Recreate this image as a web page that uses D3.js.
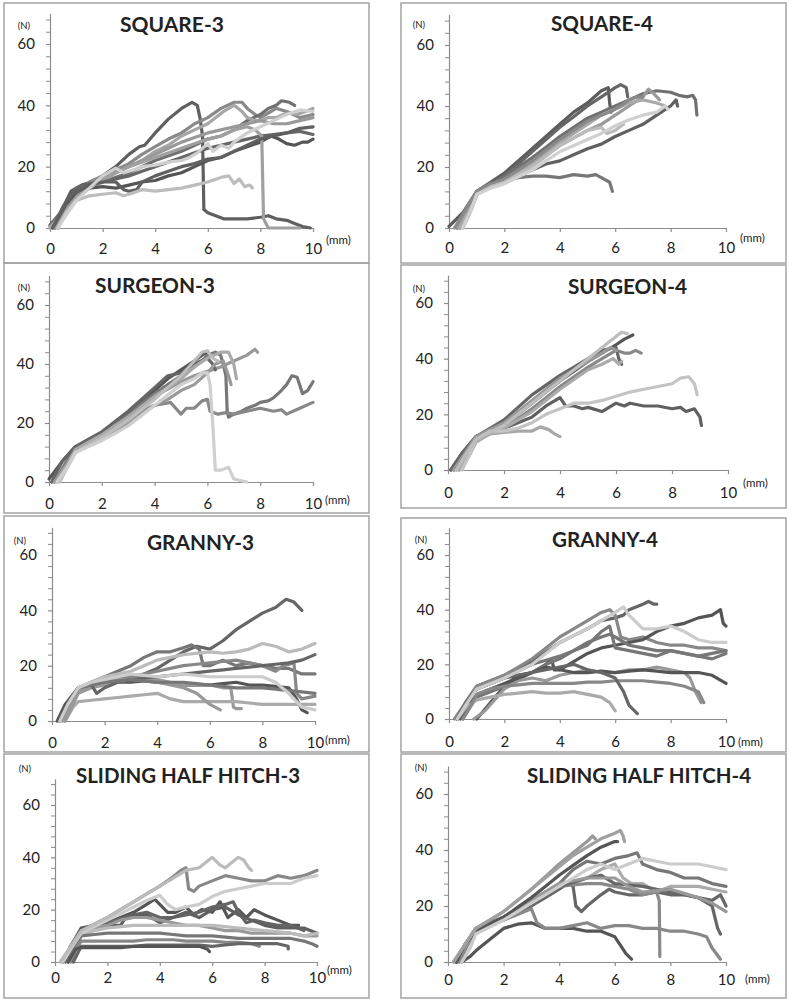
<!DOCTYPE html>
<html><head><meta charset="utf-8">
<script src="https://cdn.jsdelivr.net/npm/d3@7"></script>
<style>
html,body{margin:0;padding:0;background:#fff;}
svg{display:block;}
text{font-family:Lato,"Open Sans",sans-serif;fill:#222;}
</style></head>
<body>
<svg id="chart" width="789" height="1001"></svg>
<script>
// ---------------- DATA ----------------
const xTickValues = [0, 2, 4, 6, 8, 10];
const yTickValues = [0, 20, 40, 60];
const yMinorValues = [4,8,12,16,24,28,32,36,44,48,52,56,64,68];
const panelTitles = ["SQUARE-3","SQUARE-4","SURGEON-3","SURGEON-4","GRANNY-3","GRANNY-4","SLIDING HALF HITCH-3","SLIDING HALF HITCH-4"];

const square3 = [
 [[0,1],[0.4,5],[0.8,12],[1.2,14],[1.6,15],[2,17],[2.5,20],[3,24],[3.4,26.5],[3.6,27],[4,31],[4.5,35.5],[5,39],[5.4,41],[5.6,40],[5.7,36],[5.8,30],[5.85,6],[6,5],[6.3,4],[6.6,3],[7,3],[7.5,3],[8,3.5],[8.3,4],[8.6,3],[9,2.5],[9.3,1.5],[9.6,0.5],[9.9,0]],
 [[0,0.5],[0.5,5],[0.9,10],[1.5,15],[2,17],[2.5,19],[3,21],[3.5,24],[4,26.5],[4.5,29],[5,31],[5.5,34],[6,36],[6.5,39],[7,41],[7.3,41],[7.5,39],[7.8,37],[8,36],[8.3,37.5],[8.6,39],[9,38],[9.5,36],[10,37]],
 [[0.3,0],[0.6,6],[1,11],[1.5,13],[2,15],[3,18],[4,22],[5,25],[5.5,27],[6,29],[6.5,30],[7,32],[7.5,35],[8,37],[8.3,39],[8.6,40],[8.8,41.5],[9.1,41],[9.3,40]],
 [[0,0],[0.5,5],[1,10],[1.5,13],[2,15],[2.5,18],[3,20],[3.5,22],[4,25],[4.5,27],[5,30],[5.5,32],[6,34],[6.3,36],[6.6,38],[7,40],[7.3,38],[7.5,36],[7.8,35],[8,35],[8.3,36],[8.6,36],[9,37.5],[9.4,37],[9.7,38],[10,39]],
 [[0.2,0],[0.6,6],[1,12],[1.5,13],[2,13.5],[2.5,13],[3,14],[3.5,15],[4,15.5],[4.5,17],[5,18],[5.5,20],[6,22],[6.5,23],[7,25],[7.5,26.5],[8,28],[8.4,30],[8.7,29],[9,27.5],[9.3,27],[9.6,28],[9.8,28],[10,29]],
 [[0.1,0],[0.5,7],[1,13],[1.5,14.5],[2,15],[2.5,16],[3,17],[3.5,18.5],[4,20],[4.5,21.5],[5,23],[5.5,24.5],[6,26],[6.5,27],[7,28],[7.5,29],[8,30],[8.5,30.5],[9,31],[9.5,31.5],[10,30.5]],
 [[0.2,0],[0.6,6],[1,10],[1.5,13],[2,16],[2.5,18],[3,20],[3.5,22],[4,24],[4.5,26],[5,28],[5.5,29.5],[6,31],[6.5,32],[7,33],[7.5,34],[8,35],[8.5,34],[9,34],[9.5,35],[10,36]],
 [[0.2,0],[0.6,5],[1,10],[1.5,13],[2,16],[3,20],[4,23],[5,26],[6,29],[6.5,30],[7,32],[7.5,33],[7.8,32],[8.05,30],[8.12,3],[8.3,0],[8.7,0],[9.2,0],[9.5,0]],
 [[0.1,0],[0.5,6],[0.8,11],[1.5,14],[2,15],[2.5,15],[2.8,12.5],[3,12],[3.3,12.5],[3.5,15],[4,17],[4.5,18.5],[5,20],[5.5,21],[6,22.5],[6.5,23],[7,25],[7.5,27],[8,29],[8.5,30],[9,31],[9.5,32.5],[10,33]],
 [[0.3,0],[0.6,5],[1,9],[1.5,10.5],[2,11],[2.5,11.5],[2.8,10.5],[3,11],[3.5,12.5],[4,12],[4.5,12.5],[5,13],[5.5,14],[6,15],[6.5,16.5],[6.8,17],[7,14.5],[7.2,16],[7.4,13.5],[7.6,14],[7.7,13]],
 [[0.3,0],[0.6,4],[1,9],[1.5,13],[2,17],[2.5,19.5],[2.8,18],[3.2,19],[3.5,20],[4,20.5],[4.5,21.5],[5,22],[5.3,23],[5.6,24.5],[6,27.5],[6.2,25],[6.5,27],[6.8,26],[7,28],[7.5,31],[8,33],[8.5,35],[9,37],[9.5,38.5],[10,38]]
];
const square4 = [
 [[0,0.5],[0.5,5],[1,12],[1.5,15],[2,18],[2.5,22],[3,26],[3.5,30],[4,34],[4.5,38],[5,41],[5.5,45],[5.75,46],[5.8,41],[5.85,38]],
 [[0.3,0],[0.6,5],[1,11],[1.5,14],[2,17],[2.5,21],[3,25],[3.5,29],[4,33],[4.5,36.5],[5,40],[5.5,43],[6,46],[6.2,47],[6.4,46],[6.45,43]],
 [[0.3,0],[0.7,6],[1,12],[1.5,14],[2,17],[2.5,20],[3,23],[3.5,26.5],[4,30],[4.5,33],[5,36],[5.5,38],[6,40],[6.5,42],[7,44],[7.5,45],[8,44.5],[8.3,43.5],[8.6,43],[8.8,43.5],[8.9,42],[8.95,37]],
 [[0.4,0],[0.7,6],[1,11],[1.5,14],[2,15.5],[2.5,16.5],[3,17],[3.5,17],[4,16.5],[4.5,17.5],[5,17],[5.3,17.5],[5.5,16.5],[5.8,15],[5.9,12]],
 [[0.5,0],[0.8,6],[1,11],[1.5,13.5],[2,15],[2.5,17],[3,19],[3.5,21],[4,22],[4.5,24],[5,26],[5.5,27.5],[6,30],[6.5,32],[7,34],[7.5,37],[8,40],[8.2,42],[8.25,40]],
 [[0.3,0],[0.7,6],[1,11],[1.5,14],[2,16],[3,21],[4,27],[5,32],[5.5,34],[6,37],[6.5,40],[7,43],[7.2,45.5],[7.4,44],[7.6,42]],
 [[0.4,0],[0.8,7],[1,11],[1.5,13.5],[2,15],[3,21],[4,28],[5,34],[5.5,37],[6,39],[6.5,41],[7,42],[7.5,41],[7.8,40]],
 [[0.2,0],[0.6,6],[1,12],[1.5,14.5],[2,16],[3,22],[4,29],[5,35],[5.5,37],[5.8,38],[6.2,40],[6.5,42],[6.8,43],[7,43]],
 [[0.5,0],[0.8,6],[1,11],[1.5,13.5],[2,15],[3,20],[4,27],[5,32],[5.5,33],[5.7,31],[6,32],[6.3,34]],
 [[0.5,0],[0.8,6],[1,11],[1.5,13],[2,14.5],[3,19],[4,25],[5,29],[5.5,31],[6,33.5],[6.5,35.5],[7,37],[7.5,38],[7.8,40],[7.9,39]]
];
const surgeon3 = [
 [[0,1],[0.5,7],[1,12],[1.5,14],[2,16],[2.5,19],[3,23],[3.5,27],[4,31],[4.5,35],[5,38],[5.5,41],[5.8,43],[6,44]],
 [[0.2,0],[0.6,6],[1,11],[1.5,13.5],[2,16],[2.5,19],[3,23],[3.5,26.5],[4,30],[4.5,33],[5,36],[5.5,39],[5.8,41],[6,43],[6.3,44],[6.5,43],[6.6,40],[6.7,36],[6.75,24],[6.8,22],[7,23],[7.3,24],[7.5,25],[7.8,26],[8,27],[8.3,27.5],[8.5,28.5],[8.8,31],[9,33],[9.2,36],[9.4,35.5],[9.6,30],[9.8,31],[10,34]],
 [[0.2,0],[0.6,5],[1,10],[1.5,13],[2,15],[2.5,18],[3,21],[3.5,24],[4,26],[4.3,26.5],[4.6,27],[4.8,25],[5,23],[5.2,25],[5.5,25],[5.8,27.5],[6,28],[6.1,24],[6.4,23],[6.7,23.5],[7,23],[7.5,24],[8,25],[8.5,24],[8.8,24.5],[9,23],[9.5,25],[10,27]],
 [[0.3,0],[0.7,6],[1,11],[1.5,13.5],[2,16],[2.5,19],[3,22],[3.5,25.5],[4,29],[4.5,31.5],[5,34],[5.5,36],[6,37.5],[6.5,39],[7,41],[7.5,43],[7.8,45],[7.9,44]],
 [[0.1,0],[0.5,7],[1,12],[1.5,14.5],[2,17],[3,24],[4,32],[4.5,36],[5,37],[5.5,40],[6,42],[6.2,40],[6.3,38]],
 [[0.2,0],[0.6,5],[1,10],[1.5,13],[2,15],[3,20],[4,26],[4.5,28],[5,31],[5.5,33],[6,37],[6.3,40],[6.6,41],[6.8,36],[6.9,33]],
 [[0.3,0],[0.7,6],[1,11],[1.5,13.5],[2,16],[3,22],[4,29],[5,35],[5.5,39],[6,42],[6.5,44],[6.8,44],[7,40],[7.1,35]],
 [[0.4,0],[0.7,5],[1,10],[1.5,12.5],[2,15],[3,21],[4,28],[4.5,32],[5,36],[5.5,41],[5.8,44],[6,44.5],[6.2,42],[6.4,41]],
 [[0.3,0],[0.7,5],[1,10],[1.5,12],[2,14],[2.5,16.5],[3,19],[3.5,22.5],[4,26],[4.5,29.5],[5,33],[5.5,35],[5.8,37],[6,37],[6.1,33],[6.2,20],[6.3,4],[6.5,4],[6.8,5],[7,1],[7.5,0]]
];
const surgeon4 = [
 [[0.1,0],[0.5,6],[1,12],[1.5,14],[2,15],[2.5,17],[3,19],[3.5,23],[4,26],[4.2,23],[4.5,23],[4.8,22],[5,22.5],[5.5,21],[6,24],[6.3,23],[6.5,24],[7,23],[7.5,23],[8,22],[8.3,22.5],[8.5,21],[8.8,22],[9,19],[9.05,16]],
 [[0.2,0],[0.6,6],[1,12],[1.5,14],[2,16],[2.5,20],[3,24],[3.5,28],[4,32],[4.5,35.5],[5,39],[5.5,42],[6,45],[6.3,47],[6.6,48.5]],
 [[0.1,0],[0.5,6],[1,12],[1.5,15],[2,18],[2.5,22.5],[3,27],[3.5,30.5],[4,34],[4.5,37],[5,40],[5.5,43],[6,44],[6.1,40],[6.2,38]],
 [[0.3,0],[0.7,6],[1,11],[1.5,13],[2,15],[2.5,18.5],[3,22],[3.5,26],[4,30],[4.5,33.5],[5,37],[5.5,40],[6,43],[6.3,42],[6.5,42],[6.7,43],[6.9,42]],
 [[0.2,0],[0.6,6],[1,12],[1.5,14.5],[2,17],[3,25],[4,33],[5,39],[5.5,42],[5.8,44],[6,43]],
 [[0.4,0],[0.8,6],[1,11],[1.5,13],[2,15],[3,21],[4,29],[5,36],[5.5,38],[5.9,40],[6.1,38],[6.2,39]],
 [[0.4,0],[0.8,6],[1,10],[1.5,13],[2,13.5],[2.5,14],[3,14],[3.3,15.5],[3.6,14.5],[3.8,13],[4,12]],
 [[0.5,0],[0.8,6],[1,11],[1.5,14],[2,14],[2.5,15],[3,17],[3.5,20],[4,22],[4.5,24],[5,24],[5.5,25],[6,26.5],[6.5,28],[7,29],[7.5,30],[8,31],[8.3,33],[8.6,33.5],[8.8,31],[8.9,27]],
 [[0.3,0],[0.6,5],[1,11],[1.5,13.5],[2,16],[2.5,20],[3,24],[3.5,28],[4,32],[4.5,36],[5,40],[5.5,44],[6,48],[6.2,49.5],[6.4,49]]
];
const granny3 = [
 [[0.3,0],[0.6,6],[1,12],[1.5,14],[2,15],[2.5,16],[3,16],[3.5,17],[4,19],[4.5,22],[5,25],[5.5,27],[6,26],[6.5,29],[7,33],[7.5,36],[8,39],[8.5,41],[8.9,44],[9.2,43],[9.4,41],[9.5,40]],
 [[0.3,0],[0.6,6],[1,11],[1.5,14],[2,16],[2.5,18],[3,20],[3.5,23],[4,25],[4.5,25],[5,26.5],[5.3,27.5],[5.6,26],[5.75,20],[6,20],[6.5,22],[7,20],[7.5,21],[8,20],[8.5,19],[9,19],[9.5,17],[10,17]],
 [[0.3,0],[0.6,6],[1,12],[1.5,14],[2,16],[2.5,17],[3,18],[3.5,20],[4,22],[4.5,23],[5,24],[6,25],[6.5,24.5],[7,25],[7.5,26],[8,28],[8.5,27],[9,25],[9.5,26],[10,28]],
 [[0.3,0],[0.6,6],[1,11],[1.5,13],[2,15],[2.5,15.5],[3,16],[3.5,17],[4,18],[4.5,19],[5,20],[5.5,20.5],[6,21],[6.5,21.5],[7,22],[7.5,21],[8,20],[8.5,18],[8.8,20],[9.2,21],[9.3,10],[9.5,8],[10,9]],
 [[0.2,0],[0.5,6],[1,12],[1.5,13],[2,14],[2.5,14],[3,14],[3.5,14.5],[4,14],[4.5,13.5],[5,13],[5.5,13],[6,13],[6.5,13.5],[7,14],[7.5,13],[8,13],[8.5,12.5],[9,12],[9.3,8],[9.5,4],[9.7,3]],
 [[0.4,0],[0.7,6],[1,11],[1.5,13],[2,14],[2.5,15],[3,15],[3.5,15.5],[4,15],[4.5,14],[5,13],[5.5,13],[6,13],[6.5,12],[6.8,12],[6.9,5],[7,4.5],[7.2,4.5]],
 [[0.5,0],[0.8,5],[1,7],[1.5,7.5],[2,8],[2.5,8.5],[3,9],[3.5,9.5],[4,10],[4.5,8],[5,7],[5.5,7],[6,7],[6.5,7],[7,7],[7.5,6.5],[8,6],[8.5,6],[9,6],[9.5,6],[10,6]],
 [[0.5,0],[0.8,6],[1,10],[1.5,12],[2,13],[2.5,14],[3,15],[3.5,14.5],[4,14],[4.5,13],[5,12],[5.5,10],[6,6],[6.4,4]],
 [[0.3,0],[0.6,6],[1,12],[1.5,13],[1.7,10],[2,12],[2.5,14],[3,15],[3.5,15.5],[4,16],[4.5,16.5],[5,17],[5.5,17.5],[6,18],[6.5,18.5],[7,19],[7.5,19.5],[8,20],[8.5,20.5],[9,21],[9.5,22],[10,24]],
 [[0.3,0],[0.6,6],[1,12],[1.5,13],[2,14],[2.5,14.5],[3,15],[3.5,14.5],[4,14],[4.5,14],[5,14],[5.5,13.5],[6,13],[6.5,12.5],[7,12],[7.5,12],[8,12],[8.5,11.5],[9,11],[9.5,10.5],[10,10]],
 [[0.3,0],[0.6,6],[1,12],[1.5,14],[2,15],[2.5,16],[3,17],[3.5,16.5],[4,16],[4.5,16.5],[5,17],[5.5,16.5],[6,16],[6.5,16],[7,16],[7.5,16],[8,16],[8.5,14],[9,10],[9.5,5],[10,4]]
];
const granny4 = [
 [[0.3,0],[0.6,6],[1,12],[1.5,14],[2,16],[2.5,18.5],[3,21],[3.5,24.5],[4,28],[4.5,30.5],[5,33],[5.5,36],[6,37],[6.3,38],[6.5,40],[7,42],[7.2,43],[7.4,42],[7.5,42]],
 [[0.2,0],[0.6,6],[1,12],[1.5,14],[2,16],[2.5,19],[3,22],[3.5,26],[4,30],[4.5,33],[5,36],[5.5,39],[5.8,40],[6,38],[6.2,30],[6.5,29],[7,30],[7.5,28],[8,27],[8.5,27],[9,26],[9.5,26],[10,25]],
 [[1,0],[1.5,6],[2,12],[2.5,16],[3,17],[3.5,20],[3.7,22],[3.8,18],[4,18],[4.5,21],[5,24],[5.5,26],[6,27],[6.5,28],[7,29],[7.5,32],[8,34],[8.5,35],[9,37],[9.5,38],[9.8,40],[9.9,35],[10,34]],
 [[0.5,0],[0.8,5],[1,8],[1.5,10],[2,12],[2.5,14.5],[3,17],[3.5,20],[4,22],[4.5,25],[5,28],[5.5,30],[5.8,31],[6,30],[6.5,27],[7,26],[7.5,25],[8,25],[8.5,24],[9,23],[9.5,24],[10,25]],
 [[0.9,0],[1.3,3],[2,11],[2.5,14],[3,15],[3.5,14],[4,16],[4.5,17],[5,18],[5.5,17],[6,17],[6.5,18],[7,18],[7.5,19],[8,18],[8.5,17],[8.7,15],[8.9,10],[9.1,6]],
 [[0.4,0],[0.7,5],[1,9],[1.5,11],[2,13],[2.5,15],[3,17],[3.5,19],[4,18],[4.5,17],[5,17],[5.5,17.5],[6,17],[6.5,17.5],[7,18],[7.5,17.5],[8,17],[8.5,17],[9,17],[9.5,16],[10,13]],
 [[0.3,0],[0.6,4],[1,7],[1.5,8],[2,9],[2.5,9.5],[3,10],[3.5,9.5],[4,9.5],[4.5,10],[5,9],[5.5,8],[5.8,6],[6,3]],
 [[0.5,0],[0.8,5],[1,9],[1.5,11],[2,12],[2.5,12.5],[3,13],[3.5,13],[4,13],[4.5,13],[5,13.5],[5.5,13.5],[6,14],[6.5,14],[7,14],[7.5,13.5],[8,13],[8.5,12],[9,10],[9.2,6]],
 [[0.3,0],[0.6,6],[1,11],[1.5,13],[2,15],[2.5,16],[3,17],[3.5,18],[4,19],[4.5,20],[5,18],[5.5,17],[6,15],[6.3,10],[6.5,5],[6.8,2]],
 [[0.3,0],[0.6,6],[1,11],[1.5,13],[2,15],[2.5,17.5],[3,20],[3.5,21.5],[4,23],[4.5,25],[5,27],[5.5,32],[5.8,34],[6,26],[6.5,25],[7,24],[7.5,23],[8,25],[8.5,24],[9,23],[9.5,22],[10,24]],
 [[0.3,0],[0.6,5],[1,11],[1.5,13],[2,15],[2.5,17.5],[3,20],[3.5,24],[4,28],[4.5,30.5],[5,33],[5.5,36],[6,39],[6.3,41],[6.5,38],[6.7,36],[7,33],[7.5,33],[8,34],[8.5,32],[9,29],[9.5,28],[10,28]]
];
const halfHitch3 = [
 [[0.3,0],[0.6,6],[1,12],[1.5,14.5],[2,17],[2.5,20],[3,23],[3.5,26],[4,29],[4.5,32.5],[4.8,35],[5,36],[5.1,28],[5.3,27],[5.5,29],[6,31],[6.5,33],[7,32],[7.5,31],[8,31],[8.5,33],[9,32],[9.5,33],[10,35]],
 [[0.3,0],[0.6,6],[1,13],[1.5,14],[2,15],[2.5,17],[3,19],[3.5,22],[3.8,24],[4,22],[4.3,19],[4.6,19],[5,21],[5.3,18],[5.6,20],[6,19],[6.3,23],[6.6,17],[7,20],[7.3,17],[7.6,20],[8,18],[8.5,16],[9,14],[9.3,14]],
 [[0.4,0],[0.7,6],[1,11],[1.5,13],[2,15],[2.5,16.5],[3,18],[3.5,19],[4,17],[4.5,17],[5,18],[5.5,19],[6,21],[6.5,22],[6.8,23],[7,19],[7.3,15],[7.6,16],[8,15],[8.5,14],[9,14],[9.5,12]],
 [[0.3,0],[0.6,6],[1,12],[1.5,13],[2,14],[2.5,14],[2.7,17],[3,18],[3.5,18],[4,15],[4.5,17],[5,19],[5.5,17],[6,20],[6.5,21],[7,18],[7.5,16],[8,14],[8.5,13],[9,13],[9.5,13],[10,11]],
 [[0.3,0],[0.6,5],[1,11],[1.5,13],[2,14],[2.5,16],[3,17],[3.5,17],[4,16],[4.5,15],[5,14],[5.5,14],[6,13],[6.5,12],[7,12],[7.5,11],[8,11],[8.5,11],[9,11],[9.5,10],[10,10]],
 [[0.5,0],[0.8,5],[1,10],[1.5,12],[2,13],[2.5,13.5],[3,14],[3.5,14],[4,14],[4.5,14],[5,14],[5.5,14],[6,14],[6.5,13.5],[7,13],[7.5,12.5],[8,12],[8.5,11.5],[9,11],[9.5,10],[10,11]],
 [[0.5,0],[0.8,6],[1,10],[1.5,10.5],[2,11],[2.5,11],[3,11],[3.5,11],[4,11],[4.5,10.5],[5,10],[5.5,10],[6,10],[6.5,9.5],[7,9],[7.5,9],[8,9],[8.5,9],[9,9],[9.5,8],[9.8,7],[10,6]],
 [[0.6,0],[0.8,5],[1,8],[1.5,8],[2,8],[2.5,8],[3,8],[3.5,8.5],[4,8.5],[4.5,8.5],[5,8],[5.5,8],[6,8],[6.5,7.5],[7,7.5],[7.5,7],[7.8,6]],
 [[0.7,0],[0.9,4],[1,6],[1.5,6],[2,6],[2.5,6],[3,6],[3.5,6.5],[4,6.5],[4.5,6.5],[5,6.5],[5.5,6.5],[6,6],[6.5,6.5],[7,7],[7.5,7],[8,7],[8.5,7],[8.9,6],[8.9,5]],
 [[0.5,0],[0.8,5],[1,5.5],[1.5,5.5],[2,5.5],[2.5,5.5],[3,6],[3.5,6],[4,6],[4.5,6],[5,6],[5.5,6],[5.8,5],[5.9,4]],
 [[0.3,0],[0.6,5],[1,11],[1.5,13.5],[2,16],[2.5,18.5],[3,21],[3.5,23.5],[4,25.5],[4.3,22],[4.6,20],[5,21],[5.5,22],[6,25],[6.5,27],[7,28],[7.5,29],[8,30],[8.5,30],[9,30],[9.5,32],[10,33]],
 [[0.2,0],[0.6,6],[1,12],[1.5,14.5],[2,17],[2.5,20],[3,23],[3.5,26],[4,29],[4.5,32],[5,35],[5.5,36],[6,40],[6.3,37],[6.5,36],[7,40],[7.2,39],[7.4,36],[7.5,35]]
];
const halfHitch4 = [
 [[0.3,0],[0.6,6],[1,11],[1.5,13],[2,15],[2.5,17.5],[3,20],[3.5,23],[4,26],[4.3,28],[4.5,27],[4.6,20],[4.8,18],[5,20],[5.5,24],[5.8,26],[6,25],[6.5,24],[7,24],[7.5,25],[8,24],[8.5,24],[9,23],[9.5,22],[9.8,24],[10,20]],
 [[0.3,0],[0.6,6],[1,12],[1.5,14],[2,16],[2.5,19],[3,22],[3.5,25],[4,28],[4.5,33],[5,36],[5.5,35],[6,37],[6.5,38],[6.8,39],[7,35],[7.5,33],[8,32],[8.5,30],[9,30],[9.5,28],[10,27]],
 [[0.4,0],[0.7,6],[1,11],[1.5,13.5],[2,16],[2.5,19],[3,22],[3.5,25],[4,28],[4.5,28],[5,30],[5.5,33],[6,35],[6.3,30],[6.6,28],[7,28],[7.5,25],[8,27],[8.5,27],[9,27],[9.5,26],[10,25]],
 [[0.5,0],[0.8,2],[1,4],[1.5,8],[2,12],[2.5,13.5],[3,14],[3.5,12],[4,12],[4.5,12],[5,11],[5.5,11],[6,9],[6.2,6],[6.4,3],[6.6,1]],
 [[0.4,0],[0.7,6],[1,11],[1.5,13],[2,15],[2.5,17],[3,19],[3.2,14],[3.5,12],[4,12],[4.5,13],[5,14],[5.5,12],[6,13],[6.5,13],[7,12],[7.5,12],[8,11],[8.5,11],[9,10],[9.3,9],[9.5,5],[9.8,1]],
 [[0.3,0],[0.6,6],[1,11],[1.5,13.5],[2,16],[2.5,19],[3,22],[3.5,24.5],[4,27],[4.5,27.5],[5,28],[5.5,28],[6,27],[6.5,26],[7,24],[7.5,25],[7.6,22],[7.62,2]],
 [[0.3,0],[0.6,6],[1,12],[1.5,14],[2,16],[2.5,19],[3,22],[3.5,24.5],[4,27],[4.5,28.5],[5,30],[5.5,31],[6,28],[6.5,27.5],[7,27],[7.5,26],[8,25],[8.5,24],[9,23],[9.5,20],[9.7,12],[9.8,10]],
 [[0.3,0],[0.6,5],[1,11],[1.5,13.5],[2,16],[2.5,19],[3,22],[3.5,25],[4,28],[4.5,29],[5,30],[5.5,30],[6,30],[6.5,27],[7,25],[7.5,25.5],[8,26],[8.5,24.5],[9,23],[9.5,21],[10,18]],
 [[0.3,0],[0.6,6],[1,11],[1.5,13.5],[2,16],[2.5,19.5],[3,23],[3.5,27],[4,31],[4.5,34.5],[5,38],[5.5,41],[6,43],[6.1,43]],
 [[0.2,0],[0.6,6],[1,12],[1.5,15],[2,18],[2.5,22],[3,26],[3.5,30.5],[4,35],[4.5,39],[5,43],[5.2,45],[5.3,44]],
 [[0.2,0],[0.6,6],[1,12],[1.5,15],[2,18],[2.5,22],[3,26],[3.5,30],[4,34],[4.5,38],[5,41],[5.5,44],[6,46],[6.2,47],[6.3,45],[6.35,43]],
 [[0.5,0],[0.8,5],[1,10],[1.5,12.5],[2,15],[2.5,18],[3,21],[3.5,24],[4,27],[4.5,30],[5,33],[5.5,35],[6,33],[6.5,35],[7,37],[7.5,36],[8,35],[8.5,35],[9,35],[9.5,34],[10,33]]
];

// ---------------- STYLE / LAYOUT ----------------
const shades = {
 square3:   ["#5f5f5f","#8a8a8a","#707070","#a6a6a6","#555555","#666666","#999999","#a0a0a0","#606060","#bdbdbd","#cfcfcf"],
 square4:   ["#5c5c5c","#666666","#707070","#777777","#606060","#9a9a9a","#aaaaaa","#8a8a8a","#bbbbbb","#d0d0d0"],
 surgeon3:  ["#555555","#777777","#888888","#999999","#666666","#9a9a9a","#aaaaaa","#bdbdbd","#cfcfcf"],
 surgeon4:  ["#606060","#555555","#666666","#888888","#999999","#aaaaaa","#a8a8a8","#c4c4c4","#bdbdbd"],
 granny3:   ["#666666","#777777","#bbbbbb","#888888","#555555","#999999","#aaaaaa","#999999","#666666","#777777","#cccccc"],
 granny4:   ["#666666","#888888","#555555","#777777","#999999","#555555","#aaaaaa","#888888","#666666","#777777","#cccccc"],
 halfHitch3:["#888888","#555555","#666666","#606060","#999999","#bbbbbb","#777777","#888888","#666666","#555555","#cccccc","#bbbbbb"],
 halfHitch4:["#666666","#777777","#aaaaaa","#555555","#888888","#8a8a8a","#666666","#999999","#555555","#999999","#a0a0a0","#cccccc"]
};
const panelData = [square3, square4, surgeon3, surgeon4, granny3, granny4, halfHitch3, halfHitch4];
const panelKeys = ["square3","square4","surgeon3","surgeon4","granny3","granny4","halfHitch3","halfHitch4"];

const layout = [
 {box:[4,3,369,263],   L:50,  R:313, B:228, T:44,  title:[120,32,104],  n:[24,29],  mm:[326,244], lab:249},
 {box:[401,3,786,263], L:449, R:726, B:228, T:45,  title:[551,31,102],  n:[419,28], mm:[740,242], lab:248},
 {box:[4,263,369,513], L:49,  R:313, B:482, T:305, title:[95,293,120],  n:[24,291], mm:[325,504], lab:504},
 {box:[401,265,786,508],L:448,R:728, B:470, T:303, title:[568,294,119], n:[419,292], mm:[743,487], lab:493},
 {box:[4,516,369,752], L:52,  R:315, B:721, T:555, title:[147,550,107], n:[20,544],  mm:[325,744], lab:743},
 {box:[401,518,786,752],L:449,R:726, B:719, T:555, title:[552,547,106], n:[421,543], mm:[738,746], lab:742},
 {box:[4,754,369,998], L:55,  R:317, B:962, T:805, title:[76,783,224],  n:[25,772],  mm:[327,974], lab:978},
 {box:[401,754,786,998],L:448,R:726, B:962, T:794, title:[527,783,224], n:[421,771], mm:[745,983], lab:980}
];

const svg = d3.select("#chart");
const axisColor = "#8c8c8c";

layout.forEach((p, i) => {
  const g = svg.append("g");
  const [bx0, by0, bx1, by1] = p.box;
  g.append("rect").attr("x", bx0).attr("y", by0).attr("width", bx1 - bx0).attr("height", by1 - by0)
    .attr("fill", "none").attr("stroke", "#a3a3a3").attr("stroke-width", 1.5);

  const x = d3.scaleLinear().domain([0, 10]).range([p.L, p.R]);
  const y = d3.scaleLinear().domain([0, 60]).range([p.B, p.T]);
  const yAx = d3.scaleLinear().domain([0, 70]).range([p.B, y(70)]);

  // y axis (major + minor)
  const yG = g.append("g").attr("transform", `translate(${p.L},0)`)
    .call(d3.axisLeft(yAx).tickValues(yTickValues).tickSize(4).tickSizeOuter(0).tickPadding(11).tickFormat(d3.format("d")));
  yG.select(".domain").attr("stroke", axisColor).attr("stroke-width", 1.2);
  yG.selectAll(".tick line").attr("stroke", axisColor).attr("stroke-width", 1.2);
  yG.selectAll("text").attr("font-size", 15).attr("font-family", "Lato, 'Open Sans', sans-serif").attr("fill", "#222");
  const yMin = g.append("g").attr("transform", `translate(${p.L},0)`)
    .call(d3.axisLeft(yAx).tickValues(yMinorValues).tickSize(4).tickSizeOuter(0).tickFormat(""));
  yMin.select(".domain").remove();
  yMin.selectAll(".tick line").attr("stroke", axisColor).attr("stroke-width", 1);

  // x axis
  const pad = p.lab - p.B - 4 - 5.3;
  const xG = g.append("g").attr("transform", `translate(0,${p.B})`)
    .call(d3.axisBottom(x).tickValues(xTickValues).tickSize(4).tickSizeOuter(0).tickPadding(pad).tickFormat(d3.format("d")));
  xG.select(".domain").attr("stroke", axisColor).attr("stroke-width", 1.2);
  xG.selectAll(".tick line").attr("stroke", axisColor).attr("stroke-width", 1.2);
  xG.selectAll("text").attr("font-size", 15).attr("font-family", "Lato, 'Open Sans', sans-serif").attr("fill", "#222");

  // curves
  const line = d3.line().x(d => x(d[0])).y(d => y(d[1]));
  const cols = shades[panelKeys[i]];
  g.append("g").selectAll("path").data(panelData[i]).join("path")
    .attr("d", line).attr("fill", "none")
    .attr("stroke", (d, k) => cols[k % cols.length])
    .attr("stroke-width", 3.2).attr("stroke-linejoin", "round").attr("stroke-linecap", "round");

  // title
  g.append("text").attr("x", p.title[0]).attr("y", p.title[1])
    .attr("font-size", 21).attr("font-weight", "bold")
    .attr("textLength", p.title[2]).attr("lengthAdjust", "spacingAndGlyphs")
    .attr("fill", "#1a1a1a").text(panelTitles[i]);

  // unit labels
  g.append("text").attr("x", p.n[0]).attr("y", p.n[1]).attr("text-anchor", "middle")
    .attr("font-size", 9.5).attr("fill", "#333").text("(N)");
  g.append("text").attr("x", p.mm[0]).attr("y", p.mm[1])
    .attr("font-size", 11.5).attr("fill", "#333").text("(mm)");
});
</script>
</body></html>
